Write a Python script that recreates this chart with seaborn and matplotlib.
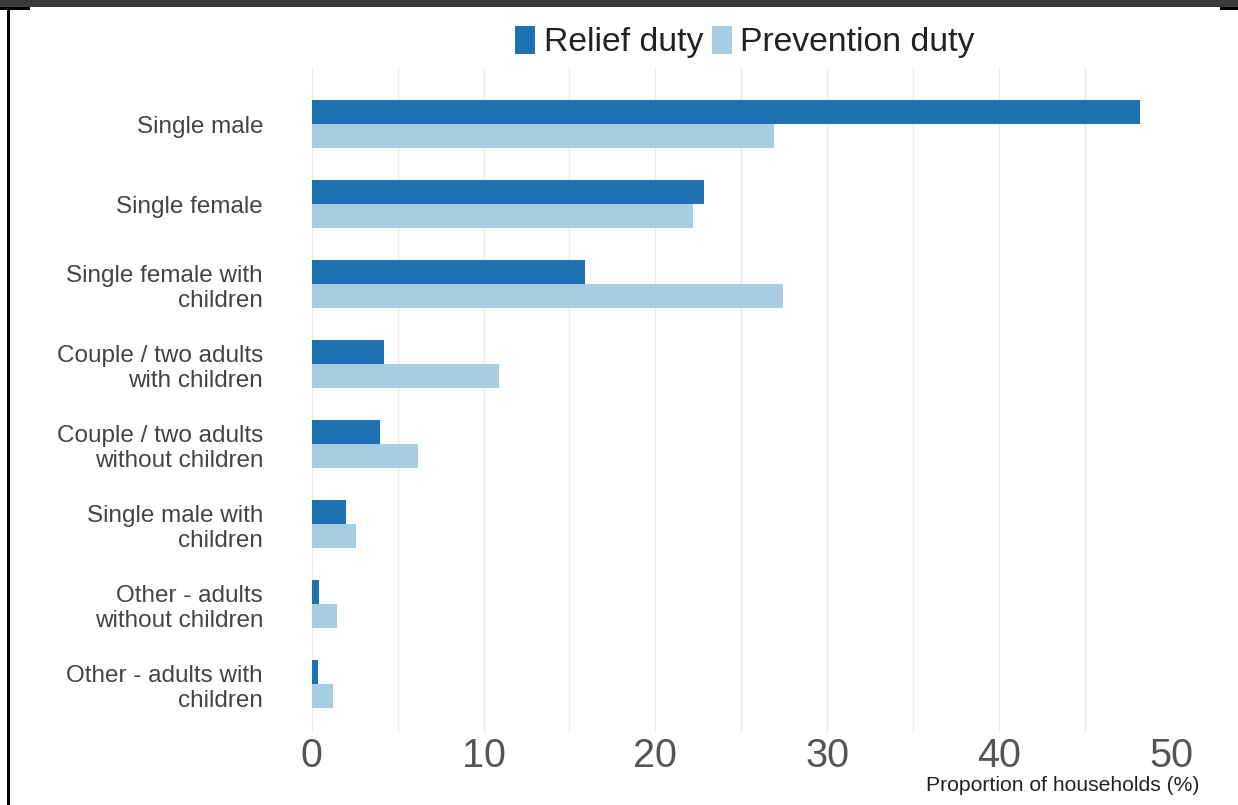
import matplotlib
matplotlib.use("Agg")
import matplotlib.pyplot as plt
import seaborn as sns
import pandas as pd
from matplotlib.patches import Rectangle

categories = [
    "Single male",
    "Single female",
    "Single female with\nchildren",
    "Couple / two adults\nwith children",
    "Couple / two adults\nwithout children",
    "Single male with\nchildren",
    "Other - adults\nwithout children",
    "Other - adults with\nchildren",
]
relief = [48.2, 22.8, 15.9, 4.2, 4.0, 2.0, 0.45, 0.35]
prevention = [26.9, 22.2, 27.4, 10.9, 6.2, 2.6, 1.45, 1.25]
series = ["Relief duty", "Prevention duty"]
colors = ["#1f72b1", "#a6cde2"]
xticks = [0, 10, 20, 30, 40, 50]

df = pd.DataFrame({
    "category": categories * 2,
    "value": relief + prevention,
    "series": [series[0]] * len(categories) + [series[1]] * len(categories),
})

sns.set_theme(style="white")
plt.rcParams["font.family"] = ["Liberation Sans", "DejaVu Sans"]

W, H = 1238, 805
fig = plt.figure(figsize=(W / 100, H / 100), dpi=100)
fig.patch.set_facecolor("white")

left, right = 311.7, 1171.0
top, bottom = 68.0, 733.0
ax = fig.add_axes([left / W, 1 - bottom / H, (right - left) / W, (bottom - top) / H])

sns.barplot(data=df, y="category", x="value", hue="series", order=categories,
            hue_order=series, palette=colors, orient="h", width=0.6, gap=0,
            saturation=1, linewidth=0, ax=ax, legend=True)

ax.set_xlim(0, 50)
ax.set_ylim(7.61, -0.7)
for s in ax.spines.values():
    s.set_visible(False)
ax.set_xticks(xticks)
ax.set_xticks([5, 15, 25, 35, 45], minor=True)
ax.xaxis.grid(True, which="both", color="#ebebeb", linewidth=1)
ax.yaxis.grid(False)
ax.set_axisbelow(True)
ax.tick_params(axis="x", which="both", length=0, labelsize=28.5, labelcolor="#555555", pad=3)
ax.tick_params(axis="y", length=0, labelsize=17.5, labelcolor="#444444", pad=35)
ax.set_ylabel("")
ax.set_xlabel("")

fig.text(1199 / W, 1 - 785 / H, "Proportion of households (%)", ha="right", va="center",
         fontsize=15.2, color="#222222")

leg = ax.legend(loc="center", bbox_to_anchor=(745 / W, 1 - 42 / H), bbox_transform=fig.transFigure,
                ncol=2, frameon=False, fontsize=24.3, handlelength=0.6, handleheight=0.93,
                handletextpad=0.24, columnspacing=0.27, borderpad=0, borderaxespad=0)
for t in leg.get_texts():
    t.set_color("#222222")

# image frame decorations
fig.patches.append(Rectangle((0, 1 - 7.5 / H), 1, 7.5 / H, transform=fig.transFigure,
                             facecolor="#3a3a3a", edgecolor="none", zorder=10))
fig.patches.append(Rectangle((0, 1 - 10 / H), 30 / W, 2.5 / H, transform=fig.transFigure,
                             facecolor="black", edgecolor="none", zorder=10))
fig.patches.append(Rectangle((1220 / W, 1 - 10 / H), 18 / W, 2.5 / H, transform=fig.transFigure,
                             facecolor="black", edgecolor="none", zorder=10))
fig.patches.append(Rectangle((7 / W, 0), 3 / W, 1 - 7.5 / H, transform=fig.transFigure,
                             facecolor="black", edgecolor="none", zorder=10))

fig.savefig("out.png", dpi=100, facecolor="white")
